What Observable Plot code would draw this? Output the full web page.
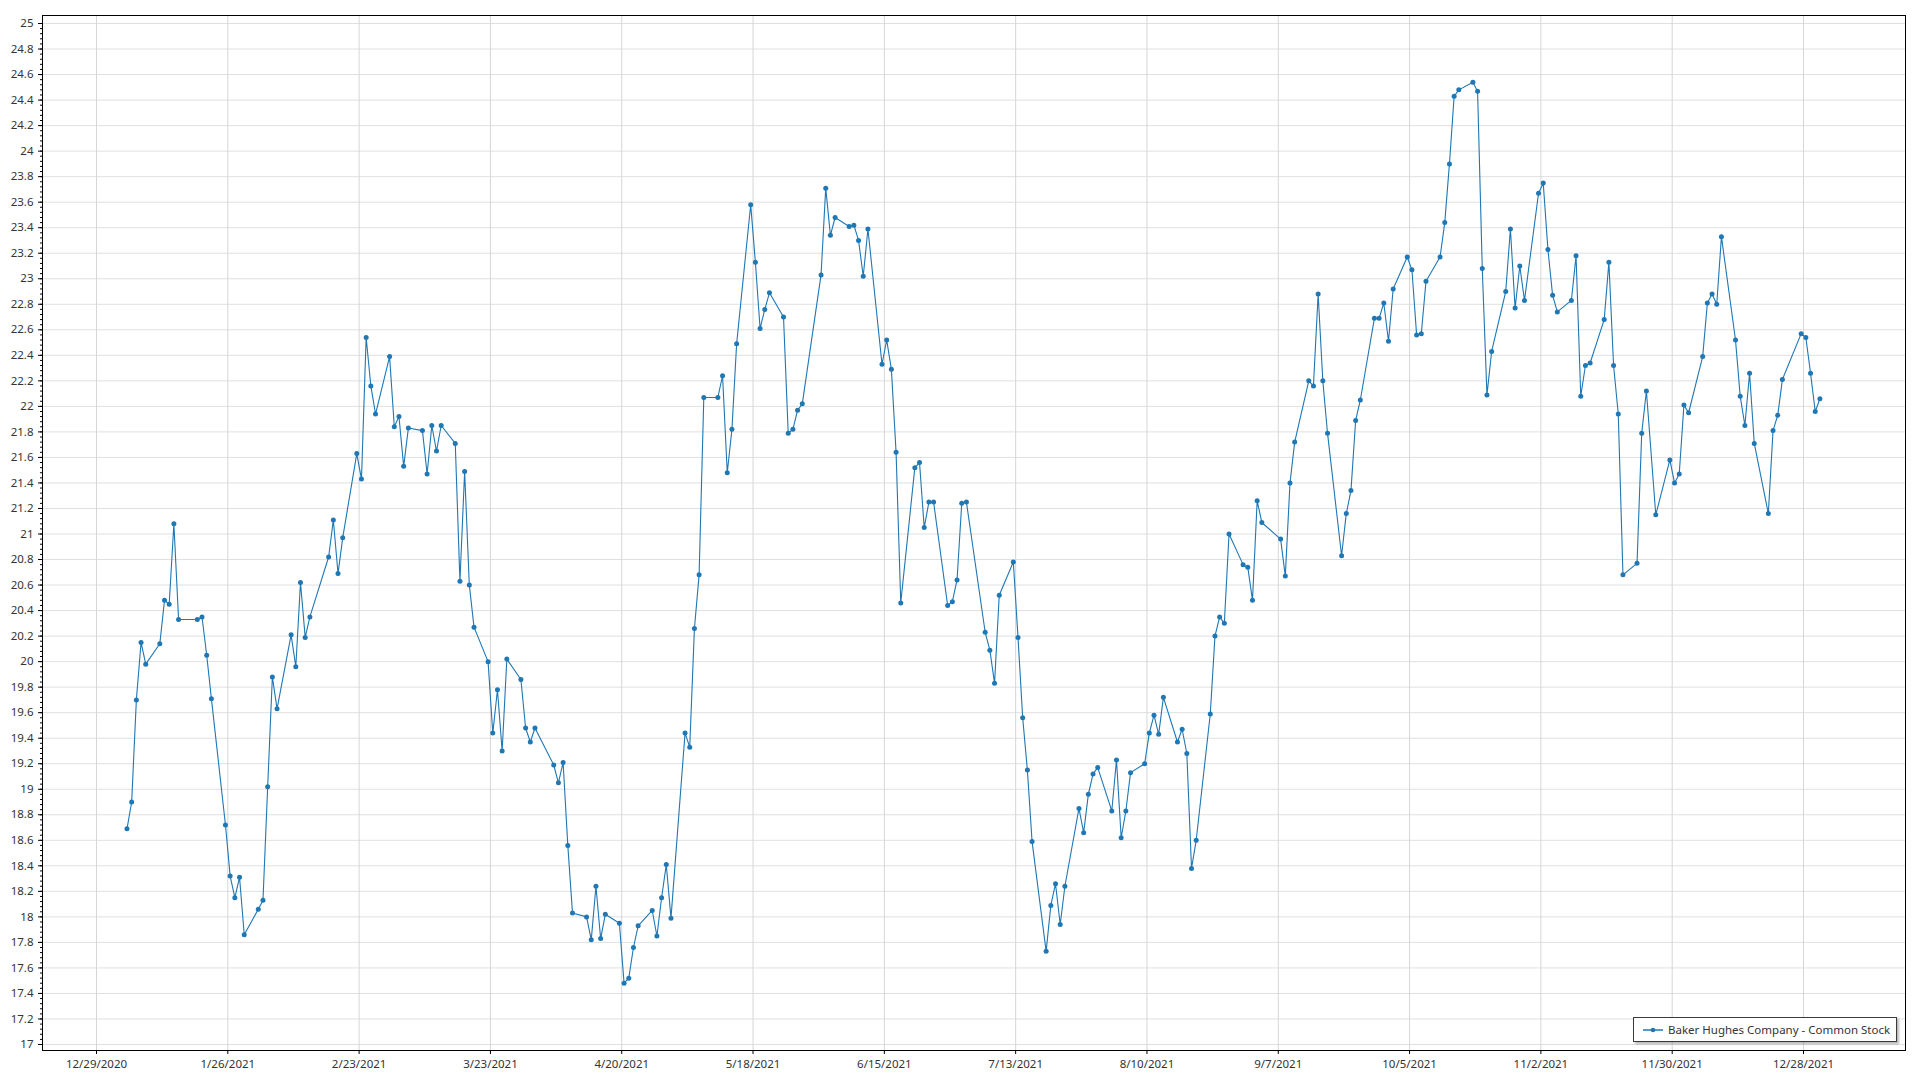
<!DOCTYPE html>
<html>
<head>
<meta charset="utf-8">
<script src="https://cdn.jsdelivr.net/npm/d3@7"></script>
<script src="https://cdn.jsdelivr.net/npm/@observablehq/plot@0.6"></script>
<style>
  html, body { margin: 0; padding: 0; background: #fff; }
  #wrap { position: relative; width: 1920px; height: 1080px; overflow: hidden; }
  #legend {
    position: absolute; left: 1633px; top: 1017px; width: 264px; height: 25px;
    box-sizing: border-box; border: 1px solid #3a3a3a; background: #fff;
    box-shadow: 2px 2px 2px rgba(0,0,0,0.28);
    font-family: "Noto Sans", "Open Sans", sans-serif; font-size: 11.5px; color: #333;
    display: flex; align-items: center; padding-left: 9px; white-space: nowrap;
  }
  #legend svg { margin-right: 5px; }
</style>
</head>
<body>
<div id="wrap"></div>
<script>
// ---- Data: Baker Hughes Company - Common Stock, daily close, 2021 ----
const seriesName = "Baker Hughes Company - Common Stock";

const dates = [
  "2021-01-04","2021-01-05","2021-01-06","2021-01-07","2021-01-08","2021-01-11","2021-01-12","2021-01-13","2021-01-14","2021-01-15","2021-01-19","2021-01-20","2021-01-21","2021-01-22","2021-01-25","2021-01-26","2021-01-27","2021-01-28","2021-01-29",
  "2021-02-01","2021-02-02","2021-02-03","2021-02-04","2021-02-05","2021-02-08","2021-02-09","2021-02-10","2021-02-11","2021-02-12","2021-02-16","2021-02-17","2021-02-18","2021-02-19","2021-02-22","2021-02-23","2021-02-24","2021-02-25","2021-02-26",
  "2021-03-01","2021-03-02","2021-03-03","2021-03-04","2021-03-05","2021-03-08","2021-03-09","2021-03-10","2021-03-11","2021-03-12","2021-03-15","2021-03-16","2021-03-17","2021-03-18","2021-03-19","2021-03-22","2021-03-23","2021-03-24","2021-03-25","2021-03-26","2021-03-29","2021-03-30","2021-03-31",
  "2021-04-01","2021-04-05","2021-04-06","2021-04-07","2021-04-08","2021-04-09","2021-04-12","2021-04-13","2021-04-14","2021-04-15","2021-04-16","2021-04-19","2021-04-20","2021-04-21","2021-04-22","2021-04-23","2021-04-26","2021-04-27","2021-04-28","2021-04-29","2021-04-30",
  "2021-05-03","2021-05-04","2021-05-05","2021-05-06","2021-05-07","2021-05-10","2021-05-11","2021-05-12","2021-05-13","2021-05-14","2021-05-17","2021-05-18","2021-05-19","2021-05-20","2021-05-21","2021-05-24","2021-05-25","2021-05-26","2021-05-27","2021-05-28",
  "2021-06-01","2021-06-02","2021-06-03","2021-06-04","2021-06-07","2021-06-08","2021-06-09","2021-06-10","2021-06-11","2021-06-14","2021-06-15","2021-06-16","2021-06-17","2021-06-18","2021-06-21","2021-06-22","2021-06-23","2021-06-24","2021-06-25","2021-06-28","2021-06-29","2021-06-30",
  "2021-07-01","2021-07-02","2021-07-06","2021-07-07","2021-07-08","2021-07-09","2021-07-12","2021-07-13","2021-07-14","2021-07-15","2021-07-16","2021-07-19","2021-07-20","2021-07-21","2021-07-22","2021-07-23","2021-07-26","2021-07-27","2021-07-28","2021-07-29","2021-07-30",
  "2021-08-02","2021-08-03","2021-08-04","2021-08-05","2021-08-06","2021-08-09","2021-08-10","2021-08-11","2021-08-12","2021-08-13","2021-08-16","2021-08-17","2021-08-18","2021-08-19","2021-08-20","2021-08-23","2021-08-24","2021-08-25","2021-08-26","2021-08-27","2021-08-30","2021-08-31",
  "2021-09-01","2021-09-02","2021-09-03","2021-09-07","2021-09-08","2021-09-09","2021-09-10","2021-09-13","2021-09-14","2021-09-15","2021-09-16","2021-09-17","2021-09-20","2021-09-21","2021-09-22","2021-09-23","2021-09-24","2021-09-27","2021-09-28","2021-09-29","2021-09-30",
  "2021-10-01","2021-10-04","2021-10-05","2021-10-06","2021-10-07","2021-10-08","2021-10-11","2021-10-12","2021-10-13","2021-10-14","2021-10-15","2021-10-18","2021-10-19","2021-10-20","2021-10-21","2021-10-22","2021-10-25","2021-10-26","2021-10-27","2021-10-28","2021-10-29",
  "2021-11-01","2021-11-02","2021-11-03","2021-11-04","2021-11-05","2021-11-08","2021-11-09","2021-11-10","2021-11-11","2021-11-12","2021-11-15","2021-11-16","2021-11-17","2021-11-18","2021-11-19","2021-11-22","2021-11-23","2021-11-24","2021-11-26","2021-11-29","2021-11-30",
  "2021-12-01","2021-12-02","2021-12-03","2021-12-06","2021-12-07","2021-12-08","2021-12-09","2021-12-10","2021-12-13","2021-12-14","2021-12-15","2021-12-16","2021-12-17","2021-12-20","2021-12-21","2021-12-22","2021-12-23","2021-12-27","2021-12-28","2021-12-29","2021-12-30","2021-12-31"
];

const close = [
  18.69,18.90,19.70,20.15,19.98,20.14,20.48,20.45,21.08,20.33,20.33,20.35,20.05,19.71,18.72,18.32,18.15,18.31,17.86,
  18.06,18.13,19.02,19.88,19.63,20.21,19.96,20.62,20.19,20.35,20.82,21.11,20.69,20.97,21.63,21.43,22.54,22.16,21.94,
  22.39,21.84,21.92,21.53,21.83,21.81,21.47,21.85,21.65,21.85,21.71,20.63,21.49,20.60,20.27,20.00,19.44,19.78,19.30,20.02,19.86,19.48,19.37,
  19.48,19.19,19.05,19.21,18.56,18.03,18.00,17.82,18.24,17.83,18.02,17.95,17.48,17.52,17.76,17.93,18.05,17.85,18.15,18.41,17.99,
  19.44,19.33,20.26,20.68,22.07,22.07,22.24,21.48,21.82,22.49,23.58,23.13,22.61,22.76,22.89,22.70,21.79,21.82,21.97,22.02,
  23.03,23.71,23.34,23.48,23.41,23.42,23.30,23.02,23.39,22.33,22.52,22.29,21.64,20.46,21.52,21.56,21.05,21.25,21.25,20.44,20.47,20.64,
  21.24,21.25,20.23,20.09,19.83,20.52,20.78,20.19,19.56,19.15,18.59,17.73,18.09,18.26,17.94,18.24,18.85,18.66,18.96,19.12,19.17,
  18.83,19.23,18.62,18.83,19.13,19.20,19.44,19.58,19.43,19.72,19.37,19.47,19.28,18.38,18.60,19.59,20.20,20.35,20.30,21.00,20.76,20.74,
  20.48,21.26,21.09,20.96,20.67,21.40,21.72,22.20,22.16,22.88,22.20,21.79,20.83,21.16,21.34,21.89,22.05,22.69,22.69,22.81,22.51,
  22.92,23.17,23.07,22.56,22.57,22.98,23.17,23.44,23.90,24.43,24.48,24.54,24.47,23.08,22.09,22.43,22.90,23.39,22.77,23.10,22.83,
  23.67,23.75,23.23,22.87,22.74,22.83,23.18,22.08,22.32,22.34,22.68,23.13,22.32,21.94,20.68,20.77,21.79,22.12,21.15,21.58,21.40,
  21.47,22.01,21.95,22.39,22.81,22.88,22.80,23.33,22.52,22.08,21.85,22.26,21.71,21.16,21.81,21.93,22.21,22.57,22.54,22.26,21.96,22.06
];

// x-axis tick labels (every 28 days)
const xTickLabels = [
  "12/29/2020","1/26/2021","2/23/2021","3/23/2021","4/20/2021","5/18/2021","6/15/2021",
  "7/13/2021","8/10/2021","9/7/2021","10/5/2021","11/2/2021","11/30/2021","12/28/2021"
];
// y-axis range and step
const yMin = 17, yMax = 25, yStep = 0.2, yMinorStep = 0.04;

// ---- Build table ----
function parseISO(s, hour = 0) {
  const [y, m, d] = s.split("-").map(Number);
  return new Date(y, m - 1, d, hour);
}
function parseMDY(s) {
  const [m, d, y] = s.split("/").map(Number);
  return new Date(y, m - 1, d);
}
const data = dates.map((s, i) => ({date: parseISO(s, 12), close: close[i]}));
const xTicks = xTickLabels.map(parseMDY);
const nMajor = Math.round((yMax - yMin) / yStep);
const yTicks = d3.range(0, nMajor + 1).map(k => +(yMin + k * yStep).toFixed(2));
const nMinor = Math.round((yMax - yMin) / yMinorStep);
const yMinor = d3.range(0, nMinor + 1).map(k => +(yMin + k * yMinorStep).toFixed(2));

const fmtY = d => String(+(+d).toFixed(1));
const fmtX = d => `${d.getMonth() + 1}/${d.getDate()}/${d.getFullYear()}`;

const color = "#1f77b4";

const chart = Plot.plot({
  width: 1920,
  height: 1080,
  marginLeft: 42,
  marginRight: 15,
  marginTop: 15,
  marginBottom: 30,
  insetTop: 8,
  insetBottom: 6,
  style: {
    fontFamily: "'Noto Sans', 'Open Sans', sans-serif",
    fontSize: "11.5px",
    color: "#333",
    background: "#fff"
  },
  x: {type: "time", domain: [new Date(2020, 11, 17, 11, 38), new Date(2022, 0, 18, 18, 0)], label: null},
  y: {domain: [yMin, yMax], label: null},
  marks: [
    Plot.gridY(yTicks, {stroke: "#e0e0e0", strokeOpacity: 1}),
    Plot.gridX(xTicks, {stroke: "#d6d6d6", strokeOpacity: 1}),
    Plot.axisY(yMinor, {tickSize: 2, tickFormat: () => "", stroke: "#000", label: null}),
    Plot.axisY(yTicks, {tickSize: 4, tickPadding: 5, tickFormat: fmtY, stroke: "#000", fill: "#333", label: null}),
    Plot.axisX(xTicks, {tickSize: 4, tickPadding: 5, tickFormat: fmtX, stroke: "#000", fill: "#333", label: null}),
    Plot.frame({stroke: "#000"}),
    Plot.line(data, {x: "date", y: "close", stroke: color, strokeWidth: 1.1}),
    Plot.dot(data, {x: "date", y: "close", r: 2.5, fill: color, stroke: "none"})
  ]
});

const wrap = document.getElementById("wrap");
wrap.appendChild(chart);

// Legend (inside the plot, bottom-right)
const legend = document.createElement("div");
legend.id = "legend";
legend.innerHTML =
  `<svg width="20" height="8"><line x1="0" y1="4" x2="20" y2="4" stroke="${color}" stroke-width="1.5"/>` +
  `<circle cx="10" cy="4" r="2.3" fill="${color}"/></svg><span></span>`;
legend.querySelector("span").textContent = seriesName;
wrap.appendChild(legend);
</script>
</body>
</html>
